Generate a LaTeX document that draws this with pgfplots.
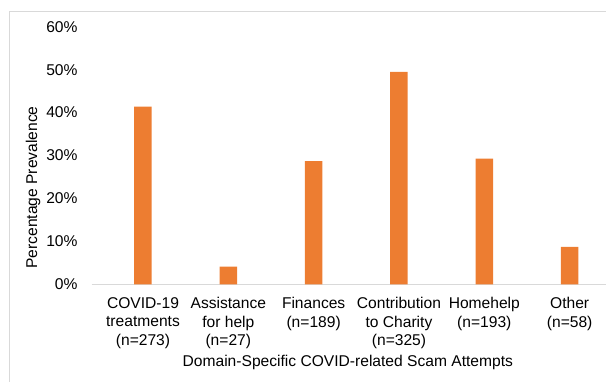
\documentclass[border=0pt]{standalone}
\usepackage{pgfplots}
\pgfplotsset{compat=1.18}
\usepackage{fontspec}
\setmainfont{Liberation Sans}
\definecolor{barorange}{HTML}{ED7D31}
\definecolor{lgrey}{HTML}{D9D9D9}
\begin{document}
\begin{tikzpicture}[x=1pt,y=1pt]
\useasboundingbox (0,0) rectangle (606,382);
\draw[lgrey, line width=1pt] (9,0) -- (9,370) -- (606,370);
\begin{axis}[
  at={(91.7pt,97.7pt)}, anchor=south west,
  scale only axis, width=514.3pt, height=257.6pt,
  xmin=-0.601, xmax=5.426, ymin=0, ymax=60,
  font=\fontsize{15.6}{18.4}\selectfont,
  /pgf/number format/assume math mode=true,
  axis x line=bottom, axis y line=left,
  x axis line style={draw=lgrey, line width=1.2pt, -},
  y axis line style={draw=none},
  major tick length=0pt, tick style={draw=none},
  ytick={0,10,20,30,40,50,60},
  yticklabel={\pgfmathprintnumber{\tick}\%},
  yticklabel style={anchor=east, inner sep=0pt, xshift=-14pt},
  xtick={0,1,2,3,4,5},
  xticklabels={{COVID-19\\treatments\\(n=273)},{Assistance\\for help\\(n=27)},{Finances\\(n=189)},{Contribution\\to Charity\\(n=325)},{Homehelp\\(n=193)},{Other\\(n=58)}},
  xticklabel style={align=center, anchor=north, inner sep=0pt, yshift=-13pt},
  xlabel={Domain-Specific COVID-related Scam Attempts},
  xlabel style={at={(axis description cs:0.498,-0.305)}, anchor=center},
  ylabel={Percentage Prevalence},
  ylabel style={at={(axis description cs:-0.114,0.376)}, anchor=center, rotate=0},
  clip=false,
]
\addplot[ybar, bar width=17.5pt, fill=barorange, draw=none] coordinates {
  (0,41.4) (1,4.1) (2,28.7) (3,49.5) (4,29.3) (5,8.7)
};
\end{axis}
\end{tikzpicture}
\end{document}
